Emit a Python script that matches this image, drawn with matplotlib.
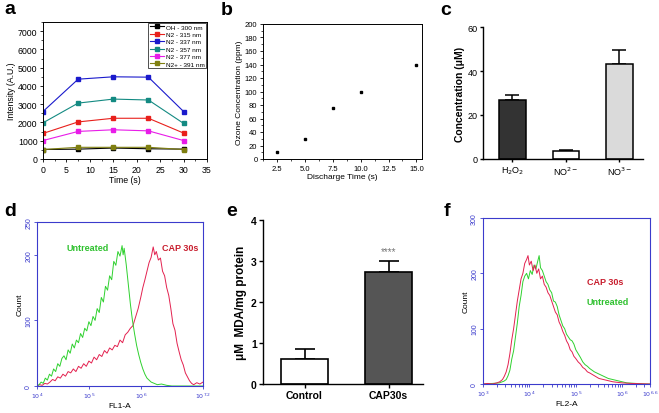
import matplotlib
matplotlib.use("Agg")
import matplotlib.pyplot as plt
from matplotlib.ticker import MultipleLocator, FixedLocator, NullFormatter
import numpy as np

plt.rcParams['font.family'] = ['Liberation Sans', 'DejaVu Sans']

W, H = 659, 414

# ---- panel a: emission intensities
a_time = [0, 7.5, 15, 22.5, 30]
a_labels = ['OH - 300 nm', 'N2 - 315 nm', 'N2 - 337 nm', 'N2 - 357 nm', 'N2 - 377 nm', 'N2+ - 391 nm']
a_oh = [520, 540, 600, 560, 540]
a_n315 = [1400, 2030, 2230, 2230, 1420]
a_n337 = [2600, 4370, 4500, 4480, 2600]
a_n357 = [1980, 3060, 3280, 3230, 1950]
a_n377 = [1010, 1510, 1600, 1540, 1010]
a_n391 = [520, 640, 640, 640, 520]

# ---- panel b: ozone
b_time = [2.5, 5.0, 7.5, 10.0, 15.0]
b_ozone = [10, 30, 75, 100, 140]

# ---- panel c: species
c_names = [r'H$_2$O$_2$', r'NO$^{2-}$', r'NO$^{3-}$']
c_vals = [27, 3.8, 43]
c_err = [2.3, 0.4, 6.5]

# ---- panel e: MDA
e_names = ['Control', 'CAP30s']
e_vals = [0.6, 2.73]
e_err = [0.25, 0.28]

# ---- panel d: FL1-A histograms (log10 x, count)
d_unt_x = [4.00, 4.04, 4.08, 4.12, 4.16, 4.20, 4.24, 4.28, 4.32, 4.36, 4.40, 4.44, 4.48, 4.52, 4.56,
           4.60, 4.64, 4.68, 4.72, 4.76, 4.80, 4.84, 4.88, 4.92, 4.96, 5.00, 5.04, 5.08, 5.12, 5.16,
           5.20, 5.24, 5.28, 5.32, 5.36, 5.40, 5.44, 5.48, 5.52, 5.56, 5.60, 5.64, 5.66, 5.68, 5.72,
           5.76, 5.80, 5.84, 5.88, 5.92, 5.96, 6.00, 6.04, 6.08, 6.12, 6.16, 6.20, 6.26, 6.32, 6.40,
           6.50, 6.60, 7.20]
d_unt_y = [0, 2, 6, 4, 12, 9, 18, 15, 26, 22, 34, 30, 42, 46, 40,
           55, 50, 64, 58, 70, 66, 80, 74, 88, 84, 98, 92, 106, 100, 118,
           112, 135, 128, 152, 146, 168, 162, 190, 184, 205, 198, 214, 200, 210, 185,
           155, 125, 100, 80, 62, 48, 36, 26, 18, 12, 9, 6, 4, 2, 3,
           1, 0, 0]
d_cap_x = [4.00, 4.05, 4.10, 4.15, 4.20, 4.25, 4.30, 4.35, 4.40, 4.45, 4.50, 4.55, 4.60, 4.65, 4.70,
           4.75, 4.80, 4.85, 4.90, 4.95, 5.00, 5.05, 5.10, 5.15, 5.20, 5.25, 5.30, 5.35, 5.40, 5.45,
           5.50, 5.55, 5.60, 5.65, 5.70, 5.75, 5.80, 5.85, 5.90, 5.95, 6.00, 6.04, 6.08, 6.12, 6.16,
           6.20, 6.24, 6.27, 6.30, 6.34, 6.38, 6.42, 6.46, 6.50, 6.54, 6.58, 6.62, 6.66, 6.70, 6.74,
           6.78, 6.82, 6.86, 6.90, 6.94, 6.98, 7.02, 7.08, 7.14, 7.20]
d_cap_y = [0, 2, 1, 4, 3, 6, 10, 8, 14, 12, 18, 15, 22, 20, 26,
           22, 30, 27, 34, 30, 38, 35, 44, 40, 48, 45, 54, 50, 58, 55,
           62, 60, 70, 66, 78, 82, 88, 92, 105, 118, 135, 150, 162, 175, 188,
           196, 212, 200, 205, 192, 195, 175, 168, 150, 138, 118, 95, 85, 65, 52,
           40, 32, 20, 14, 8, 4, 2, 5, 3, 6]

# ---- panel f: FL2-A histograms (log10 x, count)
f_cap_x = [3.00, 3.10, 3.20, 3.30, 3.36, 3.42, 3.46, 3.50, 3.54, 3.58, 3.62, 3.66, 3.70, 3.74, 3.78,
           3.82, 3.86, 3.90, 3.94, 3.97, 4.00, 4.04, 4.08, 4.12, 4.16, 4.20, 4.24, 4.28, 4.32, 4.36,
           4.40, 4.44, 4.48, 4.52, 4.56, 4.60, 4.64, 4.68, 4.72, 4.76, 4.80, 4.84, 4.88, 4.92, 4.96,
           5.00, 5.05, 5.10, 5.15, 5.20, 5.25, 5.30, 5.40, 5.50, 5.60, 5.70, 5.80, 5.90, 6.00, 6.20,
           6.60]
f_cap_y = [0, 1, 0, 2, 4, 8, 14, 22, 35, 55, 80, 100, 125, 150, 170,
           190, 200, 218, 225, 232, 215, 222, 205, 215, 200, 208, 190, 195, 180, 175,
           165, 160, 150, 140, 130, 125, 112, 105, 95, 88, 78, 72, 62, 58, 50,
           46, 40, 36, 30, 27, 22, 20, 15, 10, 8, 6, 4, 3, 2, 1,
           0]
f_unt_x = [3.00, 3.20, 3.35, 3.45, 3.50, 3.54, 3.58, 3.62, 3.66, 3.70, 3.74, 3.78, 3.82, 3.86, 3.90,
           3.94, 3.98, 4.02, 4.06, 4.10, 4.14, 4.18, 4.21, 4.24, 4.28, 4.32, 4.36, 4.40, 4.44, 4.48,
           4.52, 4.56, 4.60, 4.64, 4.68, 4.72, 4.76, 4.80, 4.84, 4.88, 4.92, 4.96, 5.00, 5.05, 5.10,
           5.15, 5.20, 5.25, 5.30, 5.40, 5.50, 5.60, 5.70, 5.80, 5.90, 6.00, 6.10, 6.30, 6.50, 6.60]
f_unt_y = [0, 1, 2, 5, 8, 15, 25, 45, 60, 85, 110, 140, 160, 185, 195,
           200, 190, 205, 198, 215, 208, 222, 232, 210, 205, 195, 185, 180, 170, 165,
           150, 148, 140, 125, 115, 105, 100, 90, 85, 80, 78, 72, 62, 55, 48,
           40, 35, 32, 28, 22, 18, 14, 10, 8, 6, 4, 2, 1, 0, 0]


def px(l, t, r, b):
    return [l / W, 1 - b / H, (r - l) / W, (b - t) / H]


fig = plt.figure(figsize=(W / 100, H / 100), dpi=100)
fig.patch.set_facecolor('white')

# panel labels
for lab, x, y in [('a', 4, 14), ('b', 221, 15), ('c', 440, 15),
                  ('d', 4, 216), ('e', 226, 216), ('f', 444, 216)]:
    fig.text(x / W, 1 - y / H, lab, fontsize=14, fontweight='bold')

# ---------------- a
ax = fig.add_axes(px(43, 23, 207, 160))
series = [a_oh, a_n315, a_n337, a_n357, a_n377, a_n391]
colors = ['black', '#e8201c', '#1a1acc', '#138a82', '#e81ce8', '#7f7f10']
for s, c, l in zip(series, colors, a_labels):
    ax.plot(a_time, s, color=c, marker='s', markersize=2.2, lw=0.8, label=l)
ax.set_xlim(0, 35)
ax.set_ylim(0, 7500)
ax.xaxis.set_major_locator(MultipleLocator(5))
ax.xaxis.set_minor_locator(MultipleLocator(2.5))
ax.yaxis.set_major_locator(MultipleLocator(1000))
ax.yaxis.set_minor_locator(MultipleLocator(500))
ax.tick_params(labelsize=6.3, length=2.5, width=0.6, pad=1.5)
ax.tick_params(which='minor', length=1.5, width=0.5)
ax.set_xlabel('Time (s)', fontsize=6.3, labelpad=1)
ax.set_ylabel('Intensity (A.U.)', fontsize=6.3, labelpad=1)
for sp in ax.spines.values():
    sp.set_linewidth(0.7)
leg = ax.legend(loc='upper right', fontsize=4.6, frameon=True, fancybox=False,
                borderaxespad=0.1, handlelength=2.2, labelspacing=0.3,
                borderpad=0.25, handletextpad=0.3)
leg.get_frame().set_edgecolor('black')
leg.get_frame().set_linewidth(0.6)

# ---------------- b
ax = fig.add_axes(px(263, 25, 422, 160))
ax.plot(b_time, b_ozone, 's', color='black', markersize=2.0)
ax.set_xlim(1.25, 15.5)
ax.set_ylim(0, 200)
ax.xaxis.set_major_locator(FixedLocator([2.5, 5.0, 7.5, 10.0, 12.5, 15.0]))
ax.xaxis.set_minor_locator(MultipleLocator(1.25))
ax.yaxis.set_major_locator(MultipleLocator(20))
ax.yaxis.set_minor_locator(MultipleLocator(10))
ax.set_xticklabels(['2.5', '5.0', '7.5', '10.0', '12.5', '15.0'])
ax.tick_params(labelsize=5.5, length=2.5, width=0.6, pad=1.5)
ax.tick_params(which='minor', length=1.5, width=0.5)
ax.set_xlabel('Discharge Time (s)', fontsize=6, labelpad=1)
ax.set_ylabel('Ozone Concentration (ppm)', fontsize=6, labelpad=1)
for sp in ax.spines.values():
    sp.set_linewidth(0.7)

# ---------------- c
ax = fig.add_axes(px(483, 28, 643, 160))
xc = np.arange(len(c_vals))
ax.bar(xc, c_vals, width=0.5, color=['#333333', 'white', '#dadada'],
       edgecolor='black', linewidth=1.1, zorder=2)
ax.errorbar(xc, c_vals, yerr=[np.zeros(3), c_err], fmt='none', ecolor='black',
            elinewidth=1.1, capsize=5, capthick=1.1, zorder=1)
ax.set_xlim(-0.55, 2.44)
ax.set_ylim(0, 60)
ax.set_yticks([0, 20, 40, 60])
ax.set_xticks(xc)
ax.set_xticklabels(c_names)
ax.spines['top'].set_visible(False)
ax.spines['right'].set_visible(False)
for sp in ['left', 'bottom']:
    ax.spines[sp].set_linewidth(1.0)
ax.tick_params(labelsize=6.5, length=2.5, width=1.0, pad=1.5)
ax.set_ylabel('Concentration (μM)', fontsize=7.5, fontweight='bold', labelpad=2)

# ---------------- e
ax = fig.add_axes(px(263, 221, 423, 385))
xe = np.arange(len(e_vals))
ax.bar(xe, e_vals, width=0.56, color=['white', '#555555'], edgecolor='black',
       linewidth=1.2, zorder=2)
ax.errorbar(xe, e_vals, yerr=[np.zeros(2), e_err], fmt='none', ecolor='black',
            elinewidth=1.2, capsize=7, capthick=1.2, zorder=1)
ax.text(1, 3.12, '****', ha='center', va='bottom', fontsize=7, color='#777777')
ax.set_xlim(-0.494, 1.41)
ax.set_ylim(0, 4)
ax.set_yticks([0, 1, 2, 3, 4])
ax.set_xticks(xe)
ax.set_xticklabels(e_names, fontweight='bold')
for t in ax.get_yticklabels():
    t.set_fontweight('bold')
ax.spines['top'].set_visible(False)
ax.spines['right'].set_visible(False)
for sp in ['left', 'bottom']:
    ax.spines[sp].set_linewidth(1.0)
ax.tick_params(labelsize=7.5, length=3, width=1.0, pad=1.5)
ax.set_ylabel('μM  MDA/mg protein', fontsize=8.5, fontweight='bold', labelpad=3)

# ---------------- flow panels
blue = '#3b3bcc'
green = '#2fd12f'
red = '#e3214f'


def flow_axes(rect, xmin, xmax, ymax, yticks, xticks, xlabels, xlabel):
    ax = fig.add_axes(rect)
    ax.set_xscale('log')
    ax.set_xlim(10 ** xmin, 10 ** xmax)
    ax.set_ylim(0, ymax)
    for sp in ax.spines.values():
        sp.set_color(blue)
        sp.set_linewidth(0.8)
    ax.set_yticks(yticks)
    ax.set_yticklabels([str(v) for v in yticks], rotation=90, va='center',
                       color=blue, fontsize=5)
    ax.set_xticks([10 ** v for v in xticks])
    ax.set_xticklabels(xlabels, color=blue, fontsize=4.5)
    ax.xaxis.set_minor_formatter(NullFormatter())
    ax.tick_params(axis='both', colors=blue, length=2.5, width=0.6, pad=1)
    ax.tick_params(which='minor', axis='x', colors=blue, length=2.5, width=0.6)
    ax.set_xlabel(xlabel, fontsize=6, labelpad=1)
    ax.set_ylabel('Count', fontsize=6, labelpad=1)
    return ax


ax = flow_axes(px(37, 223, 203, 387), 4, 7.2, 250, [0, 100, 200, 250],
               [4, 5, 6, 7.2], [r'$10^4$', r'$10^5$', r'$10^6$', r'$10^{7.2}$'], 'FL1-A')
ax.plot(10 ** np.array(d_cap_x), d_cap_y, color=red, lw=0.7)
ax.plot(10 ** np.array(d_unt_x), d_unt_y, color=green, lw=0.7)
ax.text(0.18, 0.83, 'Untreated', transform=ax.transAxes, color='#2fc12f',
        fontsize=6.5, fontweight='bold')
ax.text(0.755, 0.83, 'CAP 30s', transform=ax.transAxes, color='#c81e2e',
        fontsize=6.5, fontweight='bold')

ax = flow_axes(px(483, 219, 650, 385), 3, 6.6, 300, [0, 100, 200, 300],
               [3, 4, 5, 6, 6.6], [r'$10^3$', r'$10^4$', r'$10^5$', r'$10^6$', r'$10^{6.6}$'], 'FL2-A')
ax.plot(10 ** np.array(f_unt_x), f_unt_y, color=green, lw=0.7)
ax.plot(10 ** np.array(f_cap_x), f_cap_y, color=red, lw=0.7)
ax.text(0.62, 0.6, 'CAP 30s', transform=ax.transAxes, color='#c81e2e',
        fontsize=6.5, fontweight='bold')
ax.text(0.62, 0.48, 'Untreated', transform=ax.transAxes, color='#2fc12f',
        fontsize=6.5, fontweight='bold')

fig.savefig('out.png', dpi=100)
